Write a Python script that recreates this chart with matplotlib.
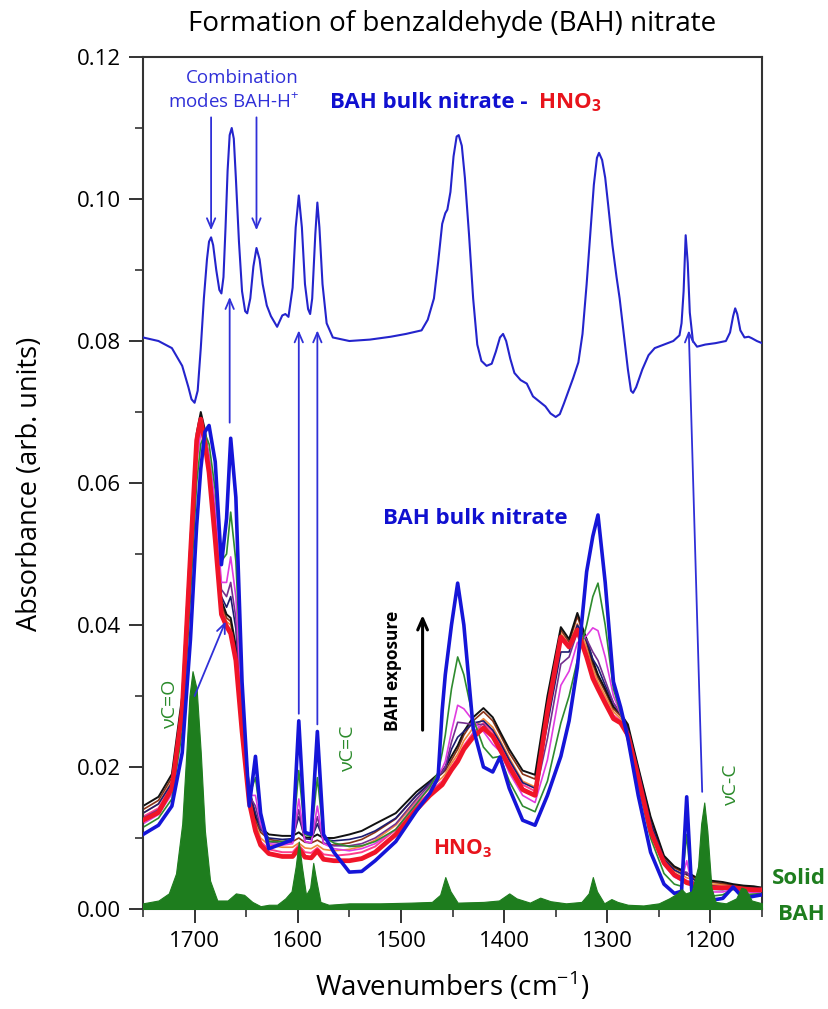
import numpy as np
import matplotlib.pyplot as plt
from matplotlib.ticker import MultipleLocator

plt.rcParams['font.family'] = ['Open Sans', 'DejaVu Sans']
plt.rcParams['mathtext.fontset'] = 'custom'
plt.rcParams['mathtext.rm'] = 'Open Sans'
plt.rcParams['mathtext.bf'] = 'Open Sans:bold'

# shared wavenumber grid of the exposure series (cm-1)
wn = [1750, 1735, 1722, 1712, 1704, 1698, 1694, 1690, 1686, 1680,
      1674, 1669, 1665, 1660, 1654, 1647, 1641, 1636, 1628, 1615,
      1605, 1599, 1593, 1587, 1581, 1575, 1565, 1550, 1538, 1525,
      1505, 1485, 1472, 1464, 1460, 1457, 1451, 1445, 1439, 1430,
      1420, 1411, 1404, 1395, 1382, 1370, 1358, 1345, 1337, 1329,
      1320, 1314, 1309, 1302, 1294, 1287, 1280, 1270, 1258, 1245,
      1235, 1228, 1223, 1218, 1212, 1200, 1188, 1178, 1168, 1158,
      1150]

# spectra during BAH exposure (HNO3 -> BAH bulk nitrate)
red = [0.0125, 0.0136, 0.0170, 0.028, 0.050, 0.066, 0.069, 0.0655, 0.0615, 0.052,
       0.0415, 0.0398, 0.0388, 0.0350, 0.0250, 0.0150, 0.0110, 0.0090, 0.0078, 0.0074,
       0.0074, 0.0085, 0.0073, 0.0072, 0.0082, 0.0070, 0.0068, 0.0068, 0.0071, 0.0080,
       0.0105, 0.0140, 0.0160, 0.0170, 0.0175, 0.0182, 0.0196, 0.0208, 0.0225, 0.0242,
       0.0255, 0.0243, 0.0225, 0.0200, 0.0168, 0.0160, 0.0278, 0.0383, 0.0369, 0.0393,
       0.0355, 0.0325, 0.0310, 0.0290, 0.0268, 0.0262, 0.0245, 0.0185, 0.0110, 0.0065,
       0.0048, 0.0042, 0.0037, 0.0035, 0.0032, 0.0030, 0.0030, 0.0030, 0.0028, 0.0027,
       0.0027]
pink = [0.0130, 0.0142, 0.0175, 0.0285, 0.050, 0.066, 0.069, 0.066, 0.0618, 0.0525,
        0.0420, 0.0400, 0.0393, 0.0355, 0.0255, 0.0155, 0.0115, 0.0095, 0.0084, 0.0080,
        0.0080, 0.0090, 0.0080, 0.0079, 0.0086, 0.0077, 0.0075, 0.0077, 0.0080, 0.0088,
        0.0112, 0.0146, 0.0165, 0.0175, 0.0180, 0.0186, 0.0200, 0.0213, 0.0230, 0.0248,
        0.0262, 0.0250, 0.0232, 0.0207, 0.0175, 0.0166, 0.0282, 0.0385, 0.0370, 0.0398,
        0.0362, 0.0332, 0.0315, 0.0295, 0.0273, 0.0265, 0.0248, 0.0188, 0.0116, 0.0067,
        0.0050, 0.0044, 0.0040, 0.0038, 0.0035, 0.0032, 0.0031, 0.0030, 0.0029, 0.0028,
        0.0028]
orange = [0.0135, 0.0148, 0.0180, 0.029, 0.051, 0.066, 0.069, 0.0665, 0.062, 0.053,
          0.0425, 0.0405, 0.0400, 0.0360, 0.0260, 0.0160, 0.0120, 0.0100, 0.0090, 0.0087,
          0.0087, 0.0093, 0.0086, 0.0085, 0.0090, 0.0084, 0.0082, 0.0084, 0.0088, 0.0097,
          0.0118, 0.0152, 0.0170, 0.0180, 0.0185, 0.0190, 0.0205, 0.0218, 0.0237, 0.0255,
          0.0268, 0.0256, 0.0238, 0.0213, 0.0180, 0.0172, 0.0285, 0.0388, 0.0372, 0.0402,
          0.0368, 0.0338, 0.0320, 0.0300, 0.0278, 0.0268, 0.0252, 0.0193, 0.0122, 0.0070,
          0.0054, 0.0048, 0.0044, 0.0042, 0.0038, 0.0035, 0.0034, 0.0033, 0.0031, 0.0030,
          0.0029]
brown = [0.0140, 0.0153, 0.0185, 0.029, 0.051, 0.0665, 0.0695, 0.067, 0.0625, 0.0535,
         0.0430, 0.0410, 0.0405, 0.0365, 0.0265, 0.0165, 0.0125, 0.0108, 0.0098, 0.0095,
         0.0095, 0.0100, 0.0094, 0.0093, 0.0097, 0.0092, 0.0090, 0.0093, 0.0098, 0.0108,
         0.0127, 0.0160, 0.0176, 0.0186, 0.0191, 0.0195, 0.0210, 0.0225, 0.0245, 0.0265,
         0.0278, 0.0265, 0.0246, 0.0220, 0.0190, 0.0183, 0.0295, 0.0393, 0.0376, 0.0412,
         0.0375, 0.0345, 0.0326, 0.0306, 0.0282, 0.0272, 0.0257, 0.0198, 0.0128, 0.0073,
         0.0058, 0.0053, 0.0048, 0.0046, 0.0041, 0.0038, 0.0036, 0.0034, 0.0032, 0.0031,
         0.0030]
black = [0.0145, 0.0158, 0.0190, 0.030, 0.052, 0.067, 0.0700, 0.0675, 0.063, 0.054,
         0.0435, 0.0415, 0.0410, 0.0370, 0.027, 0.0170, 0.0130, 0.0115, 0.0105, 0.0103,
         0.0103, 0.0108, 0.0101, 0.0100, 0.0105, 0.0100, 0.0100, 0.0105, 0.0110, 0.0120,
         0.0135, 0.0165, 0.0180, 0.0190, 0.0195, 0.0200, 0.0215, 0.0230, 0.0250, 0.0270,
         0.0283, 0.0270, 0.0250, 0.0225, 0.0195, 0.0189, 0.0300, 0.0397, 0.0380, 0.0417,
         0.0380, 0.0350, 0.0330, 0.0310, 0.0285, 0.0275, 0.0260, 0.0200, 0.0130, 0.0075,
         0.0060, 0.0055, 0.0050, 0.0048, 0.0043, 0.0040, 0.0038, 0.0035, 0.0033, 0.0032,
         0.0030]
navy = [0.0135, 0.0148, 0.0178, 0.029, 0.050, 0.066, 0.0685, 0.0665, 0.063, 0.055,
        0.0440, 0.0425, 0.0440, 0.0395, 0.027, 0.0165, 0.0135, 0.0112, 0.0100, 0.0098,
        0.0099, 0.0130, 0.0099, 0.0098, 0.0120, 0.0098, 0.0096, 0.0098, 0.0102, 0.0110,
        0.0128, 0.0160, 0.0178, 0.0188, 0.0192, 0.0198, 0.0225, 0.0242, 0.0250, 0.0262,
        0.0265, 0.0252, 0.0235, 0.0210, 0.0178, 0.0170, 0.0260, 0.0362, 0.0362, 0.0400,
        0.0378, 0.0352, 0.0340, 0.0315, 0.0290, 0.0275, 0.0253, 0.0196, 0.0122, 0.0070,
        0.0055, 0.0050, 0.0050, 0.0044, 0.0037, 0.0033, 0.0031, 0.0032, 0.0029, 0.0029,
        0.0029]
purple = [0.0128, 0.0140, 0.0170, 0.028, 0.049, 0.065, 0.068, 0.0665, 0.0635, 0.056,
          0.045, 0.044, 0.0460, 0.041, 0.027, 0.0160, 0.0145, 0.0115, 0.0095, 0.0092,
          0.0094, 0.0140, 0.0095, 0.0093, 0.0130, 0.0093, 0.0089, 0.0089, 0.0092, 0.0100,
          0.0120, 0.0155, 0.0175, 0.0188, 0.0193, 0.0200, 0.0235, 0.0263, 0.0262, 0.0260,
          0.0260, 0.0243, 0.0228, 0.0200, 0.0170, 0.0160, 0.0240, 0.0345, 0.0355, 0.0390,
          0.0380, 0.0362, 0.0350, 0.0322, 0.0290, 0.0275, 0.0250, 0.0192, 0.0115, 0.0066,
          0.0050, 0.0045, 0.0052, 0.0040, 0.0032, 0.0028, 0.0027, 0.0030, 0.0026, 0.0026,
          0.0026]
magenta = [0.0120, 0.0133, 0.0162, 0.027, 0.047, 0.063, 0.067, 0.0665, 0.064, 0.057,
           0.046, 0.046, 0.0496, 0.044, 0.028, 0.0160, 0.0160, 0.0120, 0.0092, 0.0090,
           0.0092, 0.0155, 0.0095, 0.0093, 0.0145, 0.0092, 0.0085, 0.0082, 0.0085, 0.0092,
           0.0112, 0.0150, 0.0172, 0.0188, 0.0198, 0.0208, 0.0250, 0.0287, 0.0282, 0.0265,
           0.0250, 0.0232, 0.0222, 0.0192, 0.0160, 0.0150, 0.0210, 0.0315, 0.0335, 0.0375,
           0.0385, 0.0396, 0.0392, 0.0355, 0.0300, 0.0275, 0.0245, 0.0188, 0.0110, 0.0062,
           0.0045, 0.0040, 0.0068, 0.0034, 0.0027, 0.0024, 0.0024, 0.0028, 0.0023, 0.0023,
           0.0024]
green = [0.0115, 0.0128, 0.0155, 0.025, 0.044, 0.060, 0.0655, 0.067, 0.0655, 0.059,
         0.049, 0.050, 0.0559, 0.049, 0.030, 0.0160, 0.0185, 0.0130, 0.0095, 0.0095,
         0.0098, 0.0195, 0.0105, 0.0102, 0.0185, 0.0102, 0.0093, 0.0088, 0.0089, 0.0095,
         0.0112, 0.0148, 0.0172, 0.0192, 0.0220, 0.0245, 0.0310, 0.0355, 0.0330, 0.0268,
         0.0228, 0.0213, 0.0215, 0.0180, 0.0145, 0.0137, 0.0180, 0.0262, 0.0300, 0.0350,
         0.0400, 0.0440, 0.0459, 0.0400, 0.0310, 0.0276, 0.0242, 0.0175, 0.0100, 0.0050,
         0.0035, 0.0032, 0.0105, 0.0026, 0.0020, 0.0018, 0.0020, 0.0028, 0.0020, 0.0021,
         0.0022]
blue = [0.0105, 0.0118, 0.0145, 0.022, 0.038, 0.054, 0.062, 0.0672, 0.0681, 0.063,
        0.0485, 0.055, 0.0663, 0.058, 0.032, 0.0145, 0.0215, 0.0135, 0.0085, 0.0092,
        0.0098, 0.0265, 0.0108, 0.0105, 0.025, 0.0105, 0.0080, 0.0052, 0.0053, 0.0068,
        0.0095, 0.0138, 0.0163, 0.0185, 0.0280, 0.0330, 0.0400, 0.0459, 0.0400, 0.0255,
        0.0200, 0.0193, 0.0214, 0.0170, 0.0125, 0.0118, 0.0160, 0.0215, 0.0265, 0.0340,
        0.0475, 0.0525, 0.0555, 0.0460, 0.0320, 0.0284, 0.0240, 0.0160, 0.0080, 0.0035,
        0.0022, 0.0025, 0.0158, 0.0022, 0.0012, 0.0012, 0.0015, 0.0031, 0.0015, 0.0018,
        0.0020]

# difference spectrum: BAH bulk nitrate - HNO3 (offset)
diff_wn = [1750, 1735, 1722, 1712, 1706, 1703, 1700, 1697, 1694, 1691,
           1688, 1686, 1684, 1682, 1679, 1676, 1674, 1672, 1670, 1668,
           1666, 1664, 1662, 1660, 1657, 1654, 1651, 1649, 1646, 1643,
           1640, 1637, 1634, 1630, 1626, 1620, 1615, 1612, 1609, 1605,
           1602, 1599, 1596, 1593, 1590, 1588, 1586, 1583, 1581, 1579,
           1576, 1572, 1566, 1550, 1530, 1510, 1495, 1480, 1474, 1468,
           1464, 1460, 1457, 1455, 1452, 1449, 1446, 1444, 1441, 1438,
           1434, 1430, 1426, 1422, 1417, 1412, 1408, 1404, 1401, 1398,
           1394, 1390, 1384, 1378, 1372, 1366, 1360, 1355, 1350, 1346,
           1342, 1338, 1333, 1328, 1324, 1320, 1316, 1313, 1310, 1308,
           1305, 1302, 1299, 1295, 1291, 1288, 1284, 1280, 1277, 1275,
           1272, 1266, 1260, 1254, 1245, 1236, 1230, 1228, 1226, 1224,
           1222, 1220, 1217, 1213, 1205, 1195, 1185, 1181, 1178, 1176,
           1174, 1171, 1167, 1163, 1160, 1155, 1150]
diff_abs = [0.0805, 0.0800, 0.0790, 0.0765, 0.0735, 0.0718, 0.0713, 0.0730, 0.0790, 0.0860,
            0.0915, 0.0940, 0.0946, 0.0935, 0.0900, 0.0872, 0.0867, 0.0890, 0.0960, 0.1040,
            0.1090, 0.1100, 0.1085, 0.1030, 0.0940, 0.0870, 0.0842, 0.0839, 0.0860, 0.0905,
            0.0931, 0.0915, 0.0880, 0.0850, 0.0835, 0.0820, 0.0836, 0.0838, 0.0834, 0.0875,
            0.0960, 0.1005, 0.0960, 0.0880, 0.0845, 0.0838, 0.0860, 0.0950, 0.0995, 0.0960,
            0.0880, 0.0825, 0.0805, 0.0800, 0.0802, 0.0806, 0.0810, 0.0815, 0.0830, 0.0860,
            0.0910, 0.0965, 0.0980, 0.0985, 0.1010, 0.1060, 0.1088, 0.1090, 0.1075, 0.1030,
            0.0950, 0.0860, 0.0795, 0.0772, 0.0765, 0.0768, 0.0785, 0.0805, 0.0810, 0.0800,
            0.0775, 0.0755, 0.0745, 0.0740, 0.0722, 0.0715, 0.0708, 0.0698, 0.0693, 0.0697,
            0.0712, 0.0728, 0.0748, 0.0770, 0.0810, 0.0880, 0.0960, 0.1020, 0.1058, 0.1065,
            0.1055, 0.1030, 0.0990, 0.0935, 0.0890, 0.0860, 0.0810, 0.0760, 0.0730, 0.0727,
            0.0735, 0.0760, 0.0780, 0.0790, 0.0795, 0.0800, 0.0808, 0.0825, 0.0870, 0.0949,
            0.0910, 0.0840, 0.0800, 0.0792, 0.0795, 0.0797, 0.0800, 0.0812, 0.0835, 0.0846,
            0.0838, 0.0815, 0.0805, 0.0806, 0.0804, 0.0800, 0.0797]

# solid BAH reference spectrum
solid_wn = [1750, 1735, 1725, 1718, 1712, 1708, 1705, 1702, 1698, 1694,
            1690, 1685, 1678, 1668, 1660, 1652, 1644, 1636, 1628, 1620,
            1612, 1606, 1602, 1599, 1596, 1592, 1588, 1585, 1582, 1578,
            1570, 1550, 1520, 1490, 1470, 1462, 1457, 1452, 1445, 1420,
            1405, 1395, 1388, 1375, 1365, 1355, 1340, 1325, 1318, 1314,
            1310, 1303, 1296, 1290, 1280, 1265, 1250, 1240, 1232, 1228,
            1224, 1218, 1212, 1209, 1206, 1203, 1199, 1195, 1185, 1175,
            1170, 1166, 1160, 1150]
solid_abs = [0.0008, 0.0012, 0.0022, 0.0050, 0.012, 0.022, 0.030, 0.0335, 0.031, 0.022,
             0.011, 0.004, 0.0012, 0.0012, 0.0022, 0.0020, 0.0010, 0.0004, 0.0006, 0.0006,
             0.0015, 0.0025, 0.0060, 0.0095, 0.0060, 0.0020, 0.0030, 0.0065, 0.0040, 0.0010,
             0.0006, 0.0008, 0.0008, 0.0009, 0.0010, 0.0020, 0.0045, 0.0025, 0.0009, 0.0010,
             0.0012, 0.0022, 0.0015, 0.0009, 0.0016, 0.0011, 0.0008, 0.0010, 0.0022, 0.0045,
             0.0025, 0.0008, 0.0014, 0.0010, 0.0006, 0.0005, 0.0008, 0.0015, 0.0022, 0.0028,
             0.0022, 0.0025, 0.0060, 0.0120, 0.0150, 0.0110, 0.0030, 0.0010, 0.0008, 0.0015,
             0.0030, 0.0028, 0.0012, 0.0008]

fig = plt.figure(figsize=(8.29, 10.09), dpi=100)
ax = fig.add_axes([0.1725, 0.0991, 0.7467, 0.8444])

# thin intermediate spectra, then the thick first (HNO3) and last (nitrate) ones
thin = [(pink, '#ff3d8b', 1.4), (orange, '#f0883c', 1.2), (brown, '#8a3317', 1.2),
        (black, '#111111', 1.4), (navy, '#1c1c70', 1.2), (purple, '#74308f', 1.2),
        (magenta, '#e03ce0', 1.2), (green, '#2e8b2e', 1.2)]
for vals, col, lw in thin:
    ax.plot(wn, vals, color=col, lw=lw, zorder=2, solid_joinstyle='round')
ax.plot(wn, red, color='#f01428', lw=3.4, zorder=3, solid_joinstyle='round')
ax.plot(wn, blue, color='#1515d8', lw=2.6, zorder=4, solid_joinstyle='round')

ax.fill_between(solid_wn, 0, solid_abs, color='#1e7d1e', lw=0.8, zorder=5)
ax.plot(diff_wn, diff_abs, color='#2424cc', lw=1.5, zorder=4, solid_joinstyle='round')

ax.set_xlim(1750, 1150)
ax.set_ylim(0, 0.12)
ax.xaxis.set_major_locator(MultipleLocator(100))
ax.xaxis.set_minor_locator(MultipleLocator(50))
ax.yaxis.set_major_locator(MultipleLocator(0.02))
ax.yaxis.set_minor_locator(MultipleLocator(0.01))
ax.yaxis.set_major_formatter(plt.FormatStrFormatter('%.2f'))
ax.tick_params(which='major', length=10, width=1.4, labelsize=16, color='#333333', pad=6)
ax.tick_params(which='minor', length=6, width=1.2, color='#333333')
for s in ax.spines.values():
    s.set_linewidth(1.5)
    s.set_color('#333333')

fig.text(0.545, 1 - 24 / 1009, 'Formation of benzaldehyde (BAH) nitrate',
         ha='center', va='center', fontsize=20)
fig.text(30 / 829, 0.52, 'Absorbance (arb. units)', rotation=90,
         ha='center', va='center', fontsize=19.5)
fig.text(0.545, 1 - 986 / 1009, 'Wavenumbers (cm$^{-1}$)', ha='center', va='center', fontsize=20)

ablue = '#3030d8'
ax.text(1654, 0.1171, 'Combination', color=ablue, fontsize=13.5, ha='center', va='center')
ax.text(1662, 0.1136, 'modes BAH-H$^{+}$', color=ablue, fontsize=13.5, ha='center', va='center')
ax.text(1569, 0.1128, 'BAH bulk nitrate - ', color='#1010d0', fontsize=16,
        fontweight='bold', ha='left', va='baseline')
ax.text(1367, 0.1128, r'HNO$_\mathbf{3}$', color='#e8141c', fontsize=16,
        fontweight='bold', ha='left', va='baseline')
ax.text(1428, 0.0550, 'BAH bulk nitrate', color='#1010d0', fontsize=16,
        fontweight='bold', ha='center', va='center')
ax.text(1440, 0.0085, r'HNO$_\mathbf{3}$', color='#e8141c', fontsize=15,
        fontweight='bold', ha='center', va='center')
ax.text(1508, 0.0336, 'BAH exposure', rotation=90, fontsize=12.5, fontweight='bold',
        ha='center', va='center')
ax.annotate('', xy=(1479, 0.0418), xytext=(1479, 0.0248),
            arrowprops=dict(arrowstyle='->,head_length=0.8,head_width=0.35', lw=2.2, color='black'))

lgreen = '#2a8a2a'
ax.text(1724, 0.029, 'νC=O', rotation=90, color=lgreen, fontsize=14, ha='center', va='center')
ax.text(1551, 0.0227, 'νC=C', rotation=90, color=lgreen, fontsize=14, ha='center', va='center')
ax.text(1180, 0.0176, 'νC-C', rotation=90, color=lgreen, fontsize=14, ha='center', va='center')
fig.text(799 / 829, 1 - 878 / 1009, 'Solid', color='#1e7d1e', fontsize=16,
         fontweight='bold', ha='center', va='center')
fig.text(801 / 829, 1 - 914 / 1009, 'BAH', color='#1e7d1e', fontsize=16,
         fontweight='bold', ha='center', va='center')

aprops = dict(arrowstyle='->,head_length=0.7,head_width=0.3', lw=1.3, color=ablue,
              shrinkA=0, shrinkB=0)
arrows = [((1684, 0.1115), (1684, 0.0956)), ((1640, 0.1115), (1640, 0.0956)),
          ((1666, 0.0685), (1666, 0.0862)), ((1599, 0.0275), (1599, 0.0815)),
          ((1581, 0.0260), (1581, 0.0815)), ((1208, 0.0165), (1221, 0.0815)),
          ((1700, 0.0300), (1670, 0.0405))]
for start, end in arrows:
    ax.annotate('', xy=end, xytext=start, arrowprops=aprops, zorder=6)

fig.savefig('out.png', dpi=100)
